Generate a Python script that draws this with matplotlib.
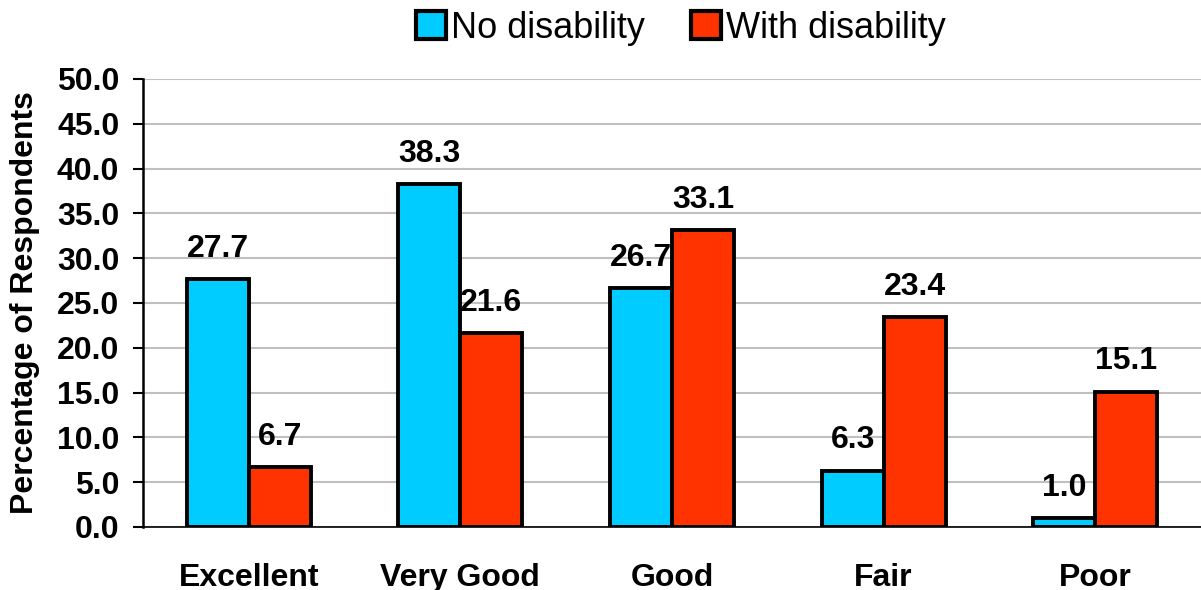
import matplotlib
matplotlib.use("Agg")
import matplotlib.pyplot as plt
import numpy as np

categories = ["Excellent", "Very Good", "Good", "Fair", "Poor"]
no_disability = [27.7, 38.3, 26.7, 6.3, 1.0]
with_disability = [6.7, 21.6, 33.1, 23.4, 15.1]
series_names = ["No disability", "With disability"]
y_ticks = [0, 5, 10, 15, 20, 25, 30, 35, 40, 45, 50]

plt.rcParams["font.family"] = ["Liberation Sans", "DejaVu Sans"]

fig = plt.figure(figsize=(12.01, 5.90), dpi=100)
ax = fig.add_axes([0.119, 0.1068, 0.881, 0.7594])

x = np.arange(len(categories))
w = 0.293
blue = "#00CCFF"
red = "#FF3300"

b1 = ax.bar(x - w / 2, no_disability, w, color=blue, edgecolor="black",
            linewidth=2.8, label=series_names[0], zorder=3)
b2 = ax.bar(x + w / 2, with_disability, w, color=red, edgecolor="black",
            linewidth=2.8, label=series_names[1], zorder=3)

for bars, vals in ((b1, no_disability), (b2, with_disability)):
    for rect, v in zip(bars, vals):
        ax.annotate(f"{v:.1f}", (rect.get_x() + rect.get_width() / 2, v),
                    xytext=(0, 16), textcoords="offset points",
                    ha="center", va="baseline", fontsize=23, fontweight="bold")

ax.set_xlim(-0.5, len(categories) - 0.5)
ax.set_ylim(0, 50)
ax.set_yticks(y_ticks)
ax.set_yticklabels([f"{t:.1f}" for t in y_ticks])
ax.set_xticks(x)
ax.set_xticklabels(categories)
ax.tick_params(axis="y", length=7, width=1.5, labelsize=23, pad=10)
ax.tick_params(axis="x", length=0, labelsize=23, pad=26)
for lbl in ax.get_xticklabels() + ax.get_yticklabels():
    lbl.set_fontweight("bold")

ax.yaxis.grid(True, color="#C0C0C0", linewidth=1.5, zorder=0)
ax.set_axisbelow(True)
for s in ("top", "right"):
    ax.spines[s].set_visible(False)
ax.spines["left"].set_linewidth(1.8)
ax.spines["bottom"].set_linewidth(1.2)

ax.set_ylabel("Percentage of Respondents", fontsize=23, fontweight="bold", labelpad=12)

leg = ax.legend(loc="center", bbox_to_anchor=(0.5085, 1.1136), ncol=2, frameon=False,
                fontsize=26, handlelength=0.83, handleheight=0.83, handletextpad=0.15,
                columnspacing=1.25)
for patch in leg.get_patches():
    patch.set_linewidth(3.0)

fig.savefig("out.png", dpi=100)
